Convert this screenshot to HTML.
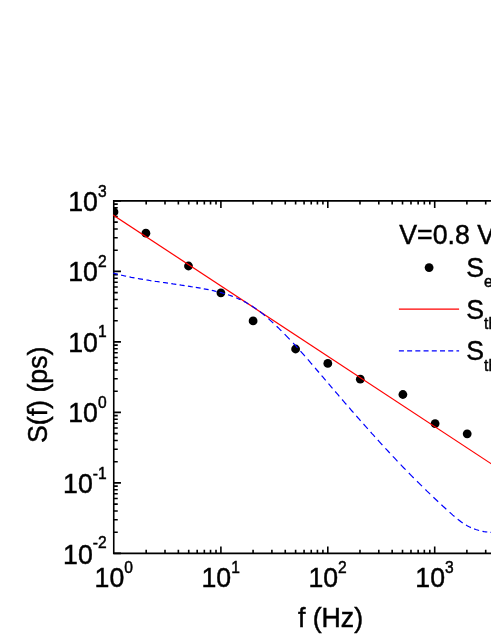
<!DOCTYPE html>
<html><head><meta charset="utf-8"><title>S(f) noise spectrum</title><style>html,body{margin:0;padding:0;background:#fff;overflow:hidden}svg{display:block;will-change:transform}text{font-family:"Liberation Sans",sans-serif;fill:#000;stroke:#000;stroke-width:0.45px}</style></head><body>
<svg width="491" height="635" viewBox="0 0 491 635">
<rect width="491" height="635" fill="#fff"/>
<path d="M113.75,553.4 L113.75,200.9 L496,200.9 M112.95,553.4 L496,553.4" fill="none" stroke="#000" stroke-width="1.6" stroke-linejoin="miter"/>
<path d="M146.18,553.4 v-3.7 M146.18,200.9 v3.7 M165.00,553.4 v-3.7 M165.00,200.9 v3.7 M178.36,553.4 v-3.7 M178.36,200.9 v3.7 M188.72,553.4 v-3.7 M188.72,200.9 v3.7 M197.18,553.4 v-3.7 M197.18,200.9 v3.7 M204.34,553.4 v-3.7 M204.34,200.9 v3.7 M210.54,553.4 v-3.7 M210.54,200.9 v3.7 M216.01,553.4 v-3.7 M216.01,200.9 v3.7 M220.90,553.4 v-7.0 M220.90,200.9 v7.0 M253.08,553.4 v-3.7 M253.08,200.9 v3.7 M271.90,553.4 v-3.7 M271.90,200.9 v3.7 M285.26,553.4 v-3.7 M285.26,200.9 v3.7 M295.62,553.4 v-3.7 M295.62,200.9 v3.7 M304.08,553.4 v-3.7 M304.08,200.9 v3.7 M311.24,553.4 v-3.7 M311.24,200.9 v3.7 M317.44,553.4 v-3.7 M317.44,200.9 v3.7 M322.91,553.4 v-3.7 M322.91,200.9 v3.7 M327.80,553.4 v-7.0 M327.80,200.9 v7.0 M359.98,553.4 v-3.7 M359.98,200.9 v3.7 M378.80,553.4 v-3.7 M378.80,200.9 v3.7 M392.16,553.4 v-3.7 M392.16,200.9 v3.7 M402.52,553.4 v-3.7 M402.52,200.9 v3.7 M410.98,553.4 v-3.7 M410.98,200.9 v3.7 M418.14,553.4 v-3.7 M418.14,200.9 v3.7 M424.34,553.4 v-3.7 M424.34,200.9 v3.7 M429.81,553.4 v-3.7 M429.81,200.9 v3.7 M434.70,553.4 v-7.0 M434.70,200.9 v7.0 M466.88,553.4 v-3.7 M466.88,200.9 v3.7 M485.70,553.4 v-3.7 M485.70,200.9 v3.7 M113.75,553.40 h7.2 M113.75,532.18 h4.0 M113.75,519.76 h4.0 M113.75,510.95 h4.0 M113.75,504.12 h4.0 M113.75,498.54 h4.0 M113.75,493.82 h4.0 M113.75,489.73 h4.0 M113.75,486.13 h4.0 M113.75,482.90 h7.2 M113.75,461.68 h4.0 M113.75,449.26 h4.0 M113.75,440.45 h4.0 M113.75,433.62 h4.0 M113.75,428.04 h4.0 M113.75,423.32 h4.0 M113.75,419.23 h4.0 M113.75,415.63 h4.0 M113.75,412.40 h7.2 M113.75,391.18 h4.0 M113.75,378.76 h4.0 M113.75,369.95 h4.0 M113.75,363.12 h4.0 M113.75,357.54 h4.0 M113.75,352.82 h4.0 M113.75,348.73 h4.0 M113.75,345.13 h4.0 M113.75,341.90 h7.2 M113.75,320.68 h4.0 M113.75,308.26 h4.0 M113.75,299.45 h4.0 M113.75,292.62 h4.0 M113.75,287.04 h4.0 M113.75,282.32 h4.0 M113.75,278.23 h4.0 M113.75,274.63 h4.0 M113.75,271.40 h7.2 M113.75,250.18 h4.0 M113.75,237.76 h4.0 M113.75,228.95 h4.0 M113.75,222.12 h4.0 M113.75,216.54 h4.0 M113.75,211.82 h4.0 M113.75,207.73 h4.0 M113.75,204.13 h4.0 M113.75,200.90 h7.2" fill="none" stroke="#000" stroke-width="1.6"/>
<clipPath id="c"><rect x="113.2" y="199.9" width="400" height="354.5"/></clipPath>
<g clip-path="url(#c)">
<circle cx="114" cy="211.9" r="4.4" fill="#000"/>
<circle cx="145.9" cy="233.2" r="4.4" fill="#000"/>
<circle cx="188.5" cy="266" r="4.4" fill="#000"/>
<circle cx="220.9" cy="292.8" r="4.4" fill="#000"/>
<circle cx="253.1" cy="320.9" r="4.4" fill="#000"/>
<circle cx="295.6" cy="349" r="4.4" fill="#000"/>
<circle cx="327.8" cy="363.4" r="4.4" fill="#000"/>
<circle cx="360.3" cy="379.2" r="4.4" fill="#000"/>
<circle cx="402.9" cy="394.5" r="4.4" fill="#000"/>
<circle cx="435.1" cy="423.6" r="4.4" fill="#000"/>
<circle cx="467.2" cy="433.8" r="4.4" fill="#000"/>
<line x1="112" y1="214.28" x2="493" y2="464.92" stroke="#ff0000" stroke-width="1.2"/>
<path d="M113.0,273.1 L114.6,273.5 L116.2,273.9 L117.8,274.3 M121.1,275.1 L122.8,275.5 L124.5,275.9 L126.1,276.2 M129.5,276.9 L131.2,277.3 L132.9,277.6 L134.5,277.9 M137.9,278.5 L139.6,278.8 L141.3,279.1 L143.0,279.4 M146.4,280.0 L148.1,280.2 L149.7,280.5 L151.4,280.8 M154.7,281.3 L156.4,281.5 L158.0,281.7 L159.7,282.0 M163.0,282.5 L164.7,282.7 L166.3,282.9 L168.0,283.2 M171.3,283.6 L173.0,283.9 L174.6,284.1 L176.3,284.3 M179.6,284.8 L181.3,285.1 L182.9,285.3 L184.6,285.6 M187.9,286.1 L189.5,286.3 L191.1,286.6 L192.7,286.8 M195.8,287.3 L197.4,287.6 L199.0,287.9 L200.6,288.2 M203.8,288.8 L205.4,289.1 L207.0,289.4 L208.6,289.7 M211.8,290.4 L213.3,290.7 L214.9,291.1 L216.5,291.5 M219.7,292.3 L221.4,292.7 L223.0,293.2 L224.7,293.7 M228.0,294.7 L229.6,295.3 L231.3,295.9 L232.9,296.5 M236.2,297.8 L237.7,298.5 L239.2,299.1 L240.7,299.8 M243.7,301.3 L245.3,302.1 L246.9,303.0 L248.4,303.9 M251.6,305.8 L253.3,306.9 L254.9,308.0 L256.6,309.2 M259.9,311.6 L261.6,312.9 L263.3,314.3 L265.0,315.7 M268.4,318.6 L270.0,320.1 L271.7,321.6 L273.3,323.1 M276.6,326.2 L278.2,327.7 L279.8,329.3 L281.4,330.9 M284.6,334.1 L286.3,335.8 L288.0,337.6 L289.7,339.4 M293.1,343.0 L294.6,344.6 L296.1,346.2 L297.5,347.8 M300.5,351.1 L302.0,352.8 L303.4,354.4 L304.9,356.1 M307.8,359.4 L309.3,361.1 L310.7,362.8 L312.2,364.5 M315.1,367.9 L316.4,369.5 L317.7,371.0 L319.0,372.5 M321.6,375.6 L323.0,377.2 L324.4,378.8 L325.7,380.4 M328.5,383.7 L329.8,385.2 L331.2,386.8 L332.5,388.4 M335.2,391.5 L336.6,393.1 L338.0,394.7 L339.3,396.3 M342.1,399.5 L343.5,401.2 L344.9,402.8 L346.4,404.5 M349.2,407.7 L350.6,409.4 L352.0,411.0 L353.5,412.6 M356.3,415.9 L357.7,417.5 L359.2,419.1 L360.6,420.8 M363.5,424.0 L364.9,425.6 L366.3,427.2 L367.8,428.8 M370.6,432.0 L372.0,433.6 L373.5,435.2 L374.9,436.8 M377.8,440.0 L379.3,441.7 L380.8,443.3 L382.4,445.0 M385.4,448.3 L386.9,449.9 L388.4,451.5 L389.8,453.1 M392.8,456.3 L394.4,457.9 L396.0,459.6 L397.5,461.3 M400.7,464.6 L402.3,466.3 L403.9,468.0 L405.6,469.6 M408.8,473.0 L410.4,474.6 L412.1,476.3 L413.7,478.0 M417.0,481.3 L418.7,482.9 L420.4,484.6 L422.0,486.2 M425.4,489.5 L427.0,491.1 L428.6,492.6 L430.2,494.1 M433.4,497.2 L435.0,498.7 L436.6,500.2 L438.2,501.7 M441.4,504.7 L443.0,506.2 L444.7,507.7 L446.3,509.2 M449.6,512.2 L451.2,513.6 L452.8,515.1 L454.5,516.5 M457.7,519.2 L459.4,520.5 L461.0,521.8 L462.7,523.0 M466.0,525.1 L467.6,526.0 L469.2,526.8 L470.9,527.6 M474.1,528.9 L475.8,529.5 L477.5,530.0 L479.1,530.5 M482.5,531.3 L484.1,531.6 L485.7,531.8 L487.3,532.0 M490.5,532.4 L492.1,532.5 L493.8,532.6 L495.4,532.6" fill="none" stroke="#0000ff" stroke-width="1.2"/>
</g>
<text transform="translate(106.6,564) scale(1,1.06)" text-anchor="end" font-size="26.7">10<tspan font-size="15.6" dy="-15.00">-2</tspan></text>
<text transform="translate(106.6,493) scale(1,1.06)" text-anchor="end" font-size="26.7">10<tspan font-size="15.6" dy="-13.11">-1</tspan></text>
<text transform="translate(106.6,422) scale(1,1.06)" text-anchor="end" font-size="26.7">10<tspan font-size="15.6" dy="-13.11">0</tspan></text>
<text transform="translate(106.6,352) scale(1,1.06)" text-anchor="end" font-size="26.7">10<tspan font-size="15.6" dy="-14.06">1</tspan></text>
<text transform="translate(106.6,281) scale(1,1.06)" text-anchor="end" font-size="26.7">10<tspan font-size="15.6" dy="-13.11">2</tspan></text>
<text transform="translate(106.6,211) scale(1,1.06)" text-anchor="end" font-size="26.7">10<tspan font-size="15.6" dy="-13.11">3</tspan></text>
<text transform="translate(113.8,587) scale(1,1.06)" text-anchor="middle" font-size="26.7">10<tspan font-size="15.6" dy="-13.11">0</tspan></text>
<text transform="translate(220.7,587) scale(1,1.06)" text-anchor="middle" font-size="26.7">10<tspan font-size="15.6" dy="-13.11">1</tspan></text>
<text transform="translate(327.6,587) scale(1,1.06)" text-anchor="middle" font-size="26.7">10<tspan font-size="15.6" dy="-13.11">2</tspan></text>
<text transform="translate(434.5,587) scale(1,1.06)" text-anchor="middle" font-size="26.7">10<tspan font-size="15.6" dy="-13.11">3</tspan></text>
<text transform="translate(330.5,627) scale(1,1.06)" text-anchor="middle" font-size="26.7">f (Hz)</text>
<text transform="translate(47,394.8) rotate(-90) scale(1,1.06)" text-anchor="middle" font-size="26.7">S(f) (ps)</text>
<text transform="translate(399.3,244) scale(1,1.06)" text-anchor="start" font-size="26.7">V=0.8 V</text>
<circle cx="429.1" cy="267.6" r="4.4" fill="#000"/>
<line x1="398.9" y1="309.2" x2="459.1" y2="309.2" stroke="#ff0000" stroke-width="1.2"/>
<line x1="398.9" y1="350.8" x2="459.1" y2="350.8" stroke="#0000ff" stroke-width="1.2" stroke-dasharray="5,3.22"/>
<text transform="translate(466.3,277) scale(1,1.06)" text-anchor="start" font-size="26.7">S<tspan font-size="15.6" dy="9.20">exp</tspan></text>
<text transform="translate(466.3,319) scale(1,1.06)" text-anchor="start" font-size="26.7">S<tspan font-size="15.6" dy="9.25">th1</tspan></text>
<text transform="translate(466.3,360) scale(1,1.06)" text-anchor="start" font-size="26.7">S<tspan font-size="15.6" dy="10.19">th2</tspan></text>
</svg></body></html>
